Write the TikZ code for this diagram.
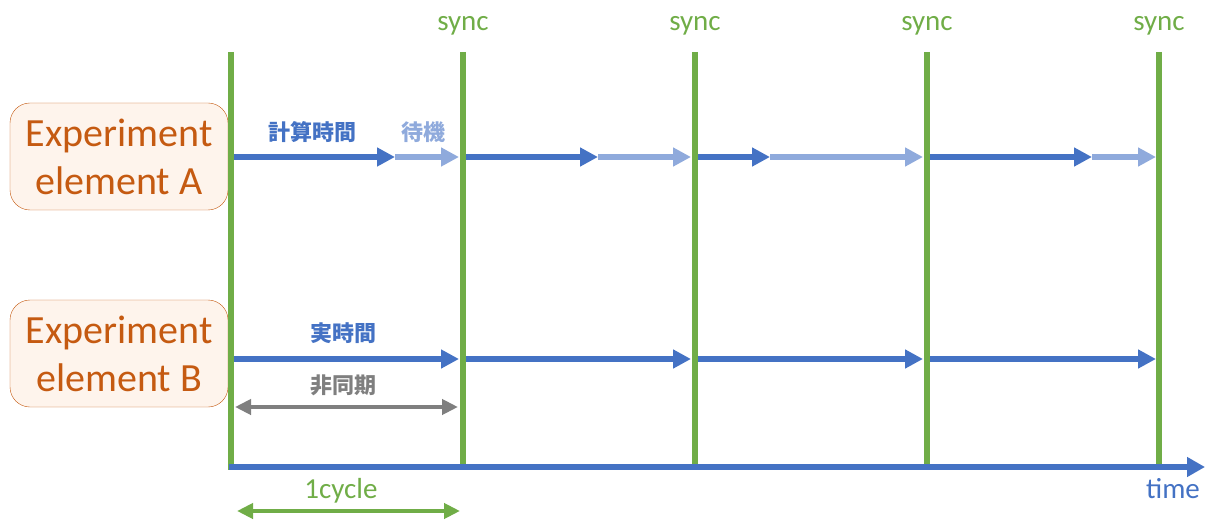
\documentclass[tikz,border=0pt]{standalone}
\usepackage{fontspec}
\setmainfont{Carlito}
\newfontfamily\cjk{Noto Sans CJK JP}
\usetikzlibrary{arrows.meta}
\definecolor{sgreen}{HTML}{70AD47}
\definecolor{sblue}{HTML}{4472C4}
\definecolor{lblue}{HTML}{8FAADC}
\definecolor{orng}{HTML}{C55A11}
\definecolor{peach}{HTML}{FEF4EC}
\definecolor{sgray}{HTML}{7F7F7F}
\begin{document}
\begin{tikzpicture}[x=1pt,y=-1pt,
 syncline/.style={draw=sgreen,line width=6pt},
 calc/.style={draw=sblue,line width=6pt,-{Triangle[length=18pt,width=18pt]}},
 wait/.style={draw=lblue,line width=6pt,-{Triangle[length=18pt,width=18pt]}},
 axis/.style={draw=sblue,line width=6pt,-{Triangle[length=18pt,width=19pt]}},
 span/.style={line width=4pt,{Triangle[length=16pt,width=15pt]}-{Triangle[length=16pt,width=15pt]}},
 elem/.style={draw=orng,fill=peach,rounded corners=20pt,minimum width=218pt,minimum height=107pt,text=orng,align=center,font=\fontsize{40}{48}\selectfont,inner sep=0pt},
 lbl/.style={font=\fontsize{29}{34}\selectfont},
 jlbl/.style={font=\cjk\bfseries\fontsize{22}{26}\selectfont}
]
\useasboundingbox (0,0) rectangle (1212,521);
% element boxes
\node[elem] (elA) at (119,156.5) {Experiment\\element A};
\node[elem] (elB) at (119,353.5) {Experiment\\element B};
% sync lines
\coordinate (t0) at (231,52); \coordinate (b0) at (231,470);
\coordinate (t1) at (463,52); \coordinate (b1) at (463,466);
\coordinate (t2) at (695,52); \coordinate (b2) at (695,466);
\coordinate (t3) at (927,52); \coordinate (b3) at (927,466);
\coordinate (t4) at (1159,52); \coordinate (b4) at (1159,466);
\foreach \i in {0,...,4} {\draw[syncline] (t\i) -- (b\i);}
\foreach \i/\x in {1/463,2/695,3/927,4/1159} {\node[lbl,text=sgreen] (sync\i) at (\x,26) {sync};}
% time axis
\coordinate (ax0) at (229,467);
\coordinate (ax1) at (1205,467);
\draw[axis] (ax0) -- (ax1);
\node[lbl,text=sblue] (time) at (1173,489) {time};
% row A
\coordinate (a0s) at (234,157); \coordinate (a0m) at (395,157); \coordinate (a0e) at (459,157);
\coordinate (a1s) at (466,157); \coordinate (a1m) at (598,157); \coordinate (a1e) at (691,157);
\coordinate (a2s) at (698,157); \coordinate (a2m) at (770,157); \coordinate (a2e) at (923,157);
\coordinate (a3s) at (930,157); \coordinate (a3m) at (1092,157); \coordinate (a3e) at (1156,157);
\foreach \i in {0,...,3} {
  \draw[wait] (a\i m) -- (a\i e);
  \draw[calc] (a\i s) -- (a\i m);
}
\node[jlbl,text=sblue] (lcalc) at (312,132) {計算時間};
\node[jlbl,text=lblue] (lwait) at (423,132) {待機};
% row B
\coordinate (b0s) at (234,359); \coordinate (b0e) at (459,359);
\coordinate (b1s) at (466,359); \coordinate (b1e) at (691,359);
\coordinate (b2s) at (698,359); \coordinate (b2e) at (923,359);
\coordinate (b3s) at (930,359); \coordinate (b3e) at (1156,359);
\foreach \i in {0,...,3} {\draw[calc] (b\i s) -- (b\i e);}
\node[jlbl,text=sblue] (lreal) at (343,333) {実時間};
% async span
\coordinate (g0) at (235,407); \coordinate (g1) at (458,407);
\draw[span,sgray] (g0) -- (g1);
\node[jlbl,text=sgray] (lasync) at (343,385) {非同期};
% 1cycle span
\coordinate (c0) at (237,511); \coordinate (c1) at (460,511);
\draw[span,sgreen] (c0) -- (c1);
\node[lbl,text=sgreen] (lcycle) at (341,491) {1cycle};
\end{tikzpicture}
\end{document}
